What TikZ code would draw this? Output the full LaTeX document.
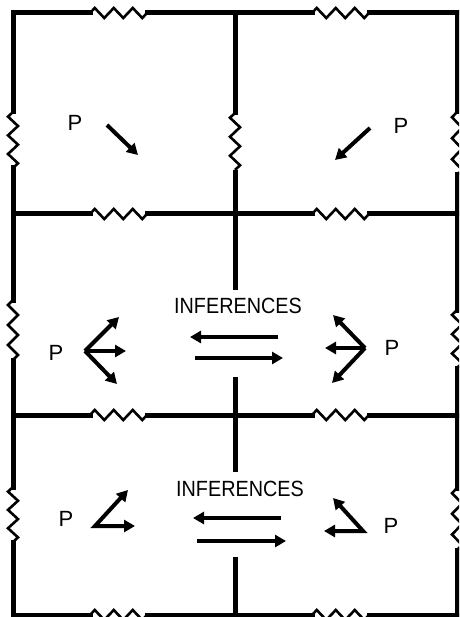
\documentclass[tikz,border=0pt]{standalone}
\usepackage{fontspec}
\setmainfont{Liberation Sans}
\usetikzlibrary{arrows.meta}
\newcommand\hzig[2]{\draw[zz] (#2,#1) -- ++(4.75,-5) -- ++(9.5,10) -- ++(9.5,-10) -- ++(9.5,10) -- ++(9.5,-10) -- ++(9.5,10) -- ++(4.75,-5);}
\newcommand\vzig[3]{\pgfmathsetmacro\zq{(#3-#2)/12}\draw[zz] (#1,#2) -- ++(-5,\zq) -- ++(10,2*\zq) -- ++(-10,2*\zq) -- ++(10,2*\zq) -- ++(-10,2*\zq) -- ++(10,2*\zq) -- ++(-5,\zq);}
\begin{document}
\begin{tikzpicture}[x=1pt,y=-1pt,
  frame/.style={line width=5pt, line cap=rect},
  frameb/.style={line width=5pt, line cap=butt},
  zz/.style={line width=2.6pt, line join=miter},
  arr/.style={line width=4pt, -{Triangle[length=11pt,width=12pt]}},
  arrtwo/.style={line width=4pt, line join=miter, {Triangle[length=11pt,width=12pt]}-{Triangle[length=11pt,width=12pt]}},
  lbl/.style={font=\fontsize{22}{22}\selectfont, inner sep=0pt},
  ]
\useasboundingbox (0,0) rectangle (459,617);
\clip (0,0) rectangle (459,617);
% horizontal lines with zigzags
\foreach \y in {13,214,415,615}{
  \draw[frame] (13,\y) -- (90,\y);
  \draw[frame] (147,\y) -- (312,\y);
  \draw[frame] (369,\y) -- (457,\y);
  \hzig{\y}{90}
  \hzig{\y}{312}
}
% left edge
\draw[frame] (13,13) -- (13,112);
\vzig{13}{112}{168}
\draw[frame] (13,168) -- (13,300);
\vzig{13}{300}{360}
\draw[frame] (13,360) -- (13,487);
\vzig{13}{487}{542}
\draw[frame] (13,542) -- (13,615);
% middle line
\draw[frame] (235,13) -- (235,113);
\vzig{235}{113}{170}
\draw[frameb] (235,170) -- (235,290);
\draw[frameb] (235,377) -- (235,472);
\draw[frameb] (235,557) -- (235,615);
% right edge
\draw[frame] (457,13) -- (457,112);
\vzig{457}{112}{175}
\draw[frame] (457,175) -- (457,310);
\vzig{457}{310}{368}
\draw[frame] (457,368) -- (457,488);
\vzig{457}{488}{550}
\draw[frame] (457,550) -- (457,615);

% labels
\node[lbl] (p1l) at (75,123) {P};
\node[lbl] (p1r) at (401,126) {P};
\node[lbl] (p2l) at (56,353) {P};
\node[lbl] (p2r) at (392,348) {P};
\node[lbl] (p3l) at (66,519) {P};
\node[lbl] (p3r) at (391,526) {P};
\node[lbl, xscale=0.9] (inf2) at (238,306) {INFERENCES};
\node[lbl, xscale=0.9] (inf3) at (240,489) {INFERENCES};

% row 1 arrows
\coordinate (a1s) at (107,125); \coordinate (a1e) at (138,155);
\coordinate (b1s) at (370,128); \coordinate (b1e) at (335,160);
\draw[arr] (a1s) -- (a1e);
\draw[arr] (b1s) -- (b1e);

% row 2 fans
\coordinate (f2l) at (85,351);
\coordinate (f2lu) at (119,317);
\coordinate (f2lm) at (126,351);
\coordinate (f2ld) at (117,384);
\draw[arr] (f2l) -- (f2lu);
\draw[arr] (f2l) -- (f2lm);
\draw[arr] (f2l) -- (f2ld);
\coordinate (f2r) at (365,348);
\coordinate (f2ru) at (333,315);
\coordinate (f2rm) at (325,348);
\coordinate (f2rd) at (332,383);
\draw[arr] (f2r) -- (f2ru);
\draw[arr] (f2r) -- (f2rm);
\draw[arr] (f2r) -- (f2rd);

% row 2 inference arrows
\coordinate (i2a) at (278,337); \coordinate (i2b) at (190,337);
\coordinate (i2c) at (195,358); \coordinate (i2d) at (283,358);
\draw[arr] (i2a) -- (i2b);
\draw[arr] (i2c) -- (i2d);

% row 3 inference arrows
\coordinate (i3a) at (281,518); \coordinate (i3b) at (193,518);
\coordinate (i3c) at (197,541); \coordinate (i3d) at (286,541);
\draw[arr] (i3a) -- (i3b);
\draw[arr] (i3c) -- (i3d);

% row 3 corner arrows
\coordinate (c3l) at (95,526);
\coordinate (c3lu) at (128,490);
\coordinate (c3lr) at (135,526);
\draw[arrtwo] (c3lu) -- (c3l) -- (c3lr);
\coordinate (c3r) at (363,531);
\coordinate (c3ru) at (333,498);
\coordinate (c3rl) at (324,531);
\draw[arrtwo] (c3ru) -- (c3r) -- (c3rl);
\end{tikzpicture}
\end{document}
